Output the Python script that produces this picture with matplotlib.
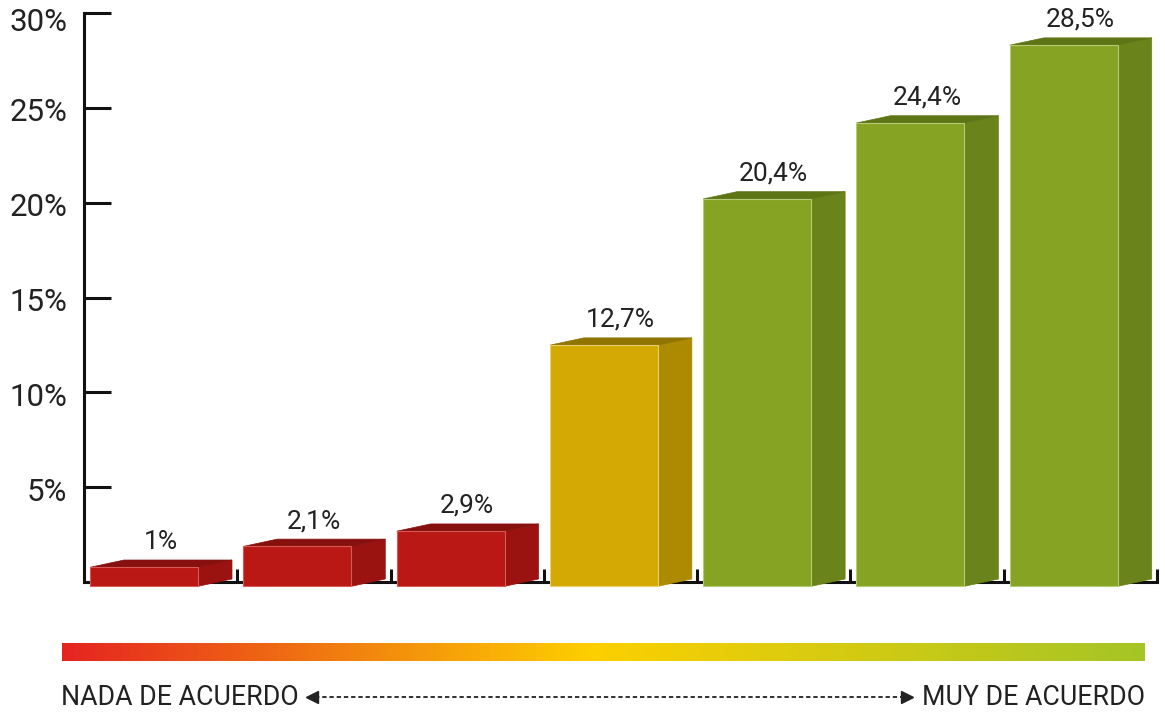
import numpy as np
import matplotlib.pyplot as plt
from matplotlib.patches import Polygon
from matplotlib.colors import LinearSegmentedColormap
from matplotlib.transforms import ScaledTranslation

plt.rcParams['font.family'] = ['Roboto', 'DejaVu Sans']

# Data
values = [1.0, 2.1, 2.9, 12.7, 20.4, 24.4, 28.5]
value_labels = ["1%", "2,1%", "2,9%", "12,7%", "20,4%", "24,4%", "28,5%"]
tick_values = [5, 10, 15, 20, 25, 30]
tick_labels = ["5%", "10%", "15%", "20%", "25%", "30%"]
left_label = "NADA DE ACUERDO"
right_label = "MUY DE ACUERDO"

# Face colours (front, side, top, edge) per bar group
red = ("#BA1815", "#9B1311", "#86100E", "#D85A55")
yellow = ("#D4A903", "#AC8A02", "#8F7400", "#E8CF70")
green = ("#87A323", "#6A841B", "#5E7516", "#B6CB78")
bar_styles = [red, red, red, yellow, green, green, green]

W, H = 1165, 712
fig = plt.figure(figsize=(W / 100, H / 100), dpi=100)

# main axes placed in pixel coordinates of the reference
x0, x1 = 84, 1157
y_zero, y_top = 582.3, 12.7
ax = fig.add_axes([x0 / W, (H - y_zero) / H, (x1 - x0) / W, (y_zero - y_top) / H])
ax.set_xlim(0, len(values))
ax.set_ylim(0, 30)

px_x = len(values) / (x1 - x0)      # data units per pixel (x)
px_y = 30 / (y_zero - y_top)        # data units per pixel (y)

# pseudo 3D geometry (in pixels, converted to data units)
f_left = 6 * px_x
f_width = 108 * px_x
depth_x = 34 * px_x
drop = 4 * px_y          # front face sits below the floor line
depth_y = 7.3 * px_y

for i, (v, st) in enumerate(zip(values, bar_styles)):
    front_c, side_c, top_c, edge_c = st
    xl = i + f_left
    xr = xl + f_width
    yb = -drop
    yt = v - drop
    front = Polygon([(xl, yb), (xr, yb), (xr, yt), (xl, yt)], closed=True,
                    facecolor=front_c, edgecolor=edge_c, lw=0.8, zorder=4, clip_on=False)
    side = Polygon([(xr, yb), (xr + depth_x, yb + depth_y), (xr + depth_x, yt + depth_y), (xr, yt)],
                   closed=True, facecolor=side_c, edgecolor=side_c, lw=0.5, zorder=3, clip_on=False)
    top = Polygon([(xl, yt), (xl + depth_x, yt + depth_y), (xr + depth_x, yt + depth_y), (xr, yt)],
                  closed=True, facecolor=top_c, edgecolor=top_c, lw=0.5, zorder=3, clip_on=False)
    for p in (side, top, front):
        ax.add_patch(p)
    ax.text(i + 0.5, v - drop + depth_y + 11 * px_y, value_labels[i], ha='center', va='baseline',
            fontsize=19, color='#222222', zorder=5, clip_on=False)

# axes styling
ax.set_axisbelow(True)
for s in ['top', 'right']:
    ax.spines[s].set_visible(False)
for s in ['left', 'bottom']:
    ax.spines[s].set_linewidth(2.2)
    ax.spines[s].set_color('#111111')
    ax.spines[s].set_zorder(1)

ax.set_xticks(np.arange(1, len(values) + 1))
ax.set_xticklabels([])
ax.tick_params(axis='x', direction='in', length=9.5, width=2.2, color='#111111')
ax.set_yticks(tick_values)
ax.set_yticklabels(tick_labels)
ax.tick_params(axis='y', direction='in', length=19.5, width=2.2, color='#111111',
               labelsize=22.5, labelcolor='#222222', pad=12)
for lab in ax.get_yticklabels():
    shift = -7 if lab.get_text() == "30%" else -2
    lab.set_transform(lab.get_transform() + ScaledTranslation(0, shift / 100, fig.dpi_scale_trans))

# gradient scale bar
gx0, gx1, gy0, gy1 = 62, 1145, 643, 661
gax = fig.add_axes([gx0 / W, (H - gy1) / H, (gx1 - gx0) / W, (gy1 - gy0) / H])
cmap = LinearSegmentedColormap.from_list("agree", [(0, "#E52421"), (0.49, "#FDD000"), (1, "#A5C526")])
gax.imshow(np.linspace(0, 1, 512)[None, :], aspect='auto', cmap=cmap, extent=(0, 1, 0, 1))
gax.set_axis_off()

# bottom labels and dotted double arrow
fig.text(61 / W, 0.8 / H, left_label, ha='left', va='bottom', fontsize=19.3, color='#222222')
fig.text(1145 / W, 0.8 / H, right_label, ha='right', va='bottom', fontsize=19.3, color='#222222')
aax = fig.add_axes([0, 0, 1, 1], facecolor='none')
aax.set_xlim(0, W)
aax.set_ylim(H, 0)
aax.set_axis_off()
ay = 696.5
aax.plot([315, 904], [ay, ay], color='#222222', lw=1.3, linestyle=(0, (2.4, 1.6)))
aax.plot([312], [ay], marker='<', markersize=8, color='#222222', linestyle='none')
aax.plot([907], [ay], marker='>', markersize=8, color='#222222', linestyle='none')

fig.savefig("out.png", dpi=100)
